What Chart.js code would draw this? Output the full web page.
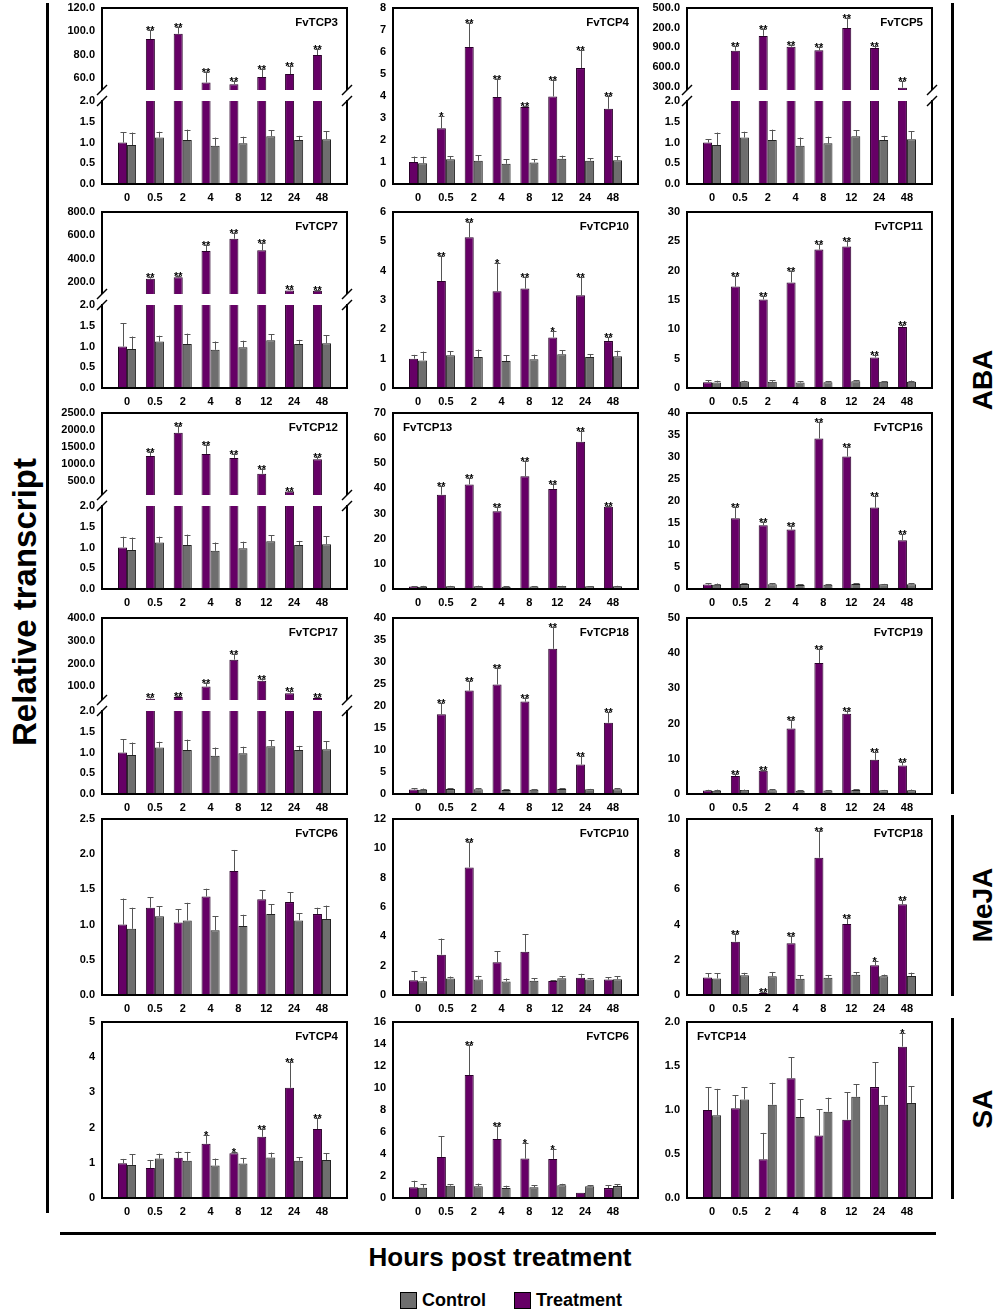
<!doctype html>
<html>
<head>
<title>FvTCP relative transcript</title>
<script src="https://cdn.jsdelivr.net/npm/chart.js@4.4.0/dist/chart.umd.min.js"></script>
<style>
  body { margin: 0; background: #fff; }
  #fig { position: relative; width: 1000px; height: 1315px; font-family: 'Liberation Sans', Arial, sans-serif; font-weight: bold; color: #000; }
  .panel { position: absolute; }
  .panel canvas { position: absolute; left: 0; }
  .rule { position: absolute; background: #000; }
  .vlabel { position: absolute; white-space: nowrap; transform: translate(-50%, -50%) rotate(-90deg); }
  .legend { position: absolute; top: 1290px; left: 400px; font-size: 18px; display: flex; align-items: center; }
  .legend span.box { display: inline-block; width: 15px; height: 15px; border: 1px solid #000; margin-right: 5px; }
</style>
</head>
<body>
<div id="fig">
  <div class="rule" style="left:46px; top:3px; width:3px; height:1210px;"></div>
  <div class="rule" style="left:60px; top:1232px; width:876px; height:3px;"></div>
  <div class="rule" style="left:951px; top:3px; width:3px; height:791px;"></div>
  <div class="rule" style="left:951px; top:815px; width:3px; height:181px;"></div>
  <div class="rule" style="left:951px; top:1018px; width:3px; height:181px;"></div>
  <div class="vlabel" style="left:25px; top:602px; font-size:33px;">Relative transcript</div>
  <div class="vlabel" style="left:983px; top:380px; font-size:28px;">ABA</div>
  <div class="vlabel" style="left:983px; top:905px; font-size:28px;">MeJA</div>
  <div class="vlabel" style="left:983px; top:1109px; font-size:28px;">SA</div>
  <div style="position:absolute; left:0; width:1000px; top:1242px; text-align:center; font-size:26px;">Hours post treatment</div>
  <div class="legend">
    <span class="box" style="background:#6e6e6e;"></span><span style="margin-right:28px;">Control</span>
    <span class="box" style="background:#660066;"></span><span>Treatment</span>
  </div>
</div>
<script>
// time points
var hours = ['0', '0.5', '2', '4', '8', '12', '24', '48'];

// control series (same reference samples in every panel)
var control = [0.94, 1.12, 1.06, 0.92, 0.98, 1.15, 1.06, 1.08];
var controlErr = [0.30, 0.14, 0.25, 0.20, 0.16, 0.14, 0.10, 0.19];

// ABA
var aba3 = [1.0, 93.5, 98.0, 56.4, 55.0, 61.0, 63.6, 79.8];
var aba3Err = [0.25, 7.5, 6.0, 9.0, 3.0, 7.0, 6.5, 5.6];
var aba3Sig = ['', '**', '**', '**', '**', '**', '**', '**'];
var aba4 = [1.0, 2.53, 6.23, 3.95, 3.5, 3.98, 5.27, 3.42];
var aba4Err = [0.25, 0.56, 1.1, 0.83, 0.03, 0.75, 0.83, 0.6];
var aba4Sig = ['', '*', '**', '**', '**', '**', '**', '**'];
var aba5 = [1.0, 850, 1075, 910, 855, 1195, 890, 285];
var aba5Err = [0.08, 65, 110, 25, 55, 145, 25, 100];
var aba5Sig = ['', '**', '**', '**', '**', '**', '**', '**'];
var aba7 = [1.0, 231, 242, 467, 572, 473, 130, 127];
var aba7Err = [0.56, 11, 14, 48, 53, 62, 11, 6];
var aba7Sig = ['', '**', '**', '**', '**', '**', '**', '**'];
var aba10 = [1.0, 3.65, 5.14, 3.3, 3.39, 1.72, 3.16, 1.6];
var aba10Err = [0.13, 0.86, 0.52, 0.95, 0.38, 0.24, 0.64, 0.13];
var aba10Sig = ['', '**', '**', '*', '**', '*', '**', '**'];
var aba11 = [1.0, 17.3, 15.1, 18.0, 23.6, 24.1, 5.2, 10.4];
var aba11Err = [0.35, 1.8, 0.6, 1.9, 0.9, 1.0, 0.4, 0.4];
var aba11Sig = ['', '**', '**', '**', '**', '**', '**', '**'];
var aba12 = [1.0, 1244, 1920, 1302, 1186, 722, 200, 1148];
var aba12Err = [0.26, 125, 210, 260, 125, 145, 30, 77];
var aba12Sig = ['', '**', '**', '**', '**', '**', '**', '**'];
var aba13 = [1.0, 37.5, 41.6, 30.9, 44.8, 39.8, 58.6, 32.7];
var aba13Err = [0.1, 3.5, 2.5, 1.8, 6.0, 2.0, 4.3, 0.4];
var aba13Sig = ['', '**', '**', '**', '**', '**', '**', '**'];
var aba16 = [1.0, 16.1, 14.5, 13.5, 34.2, 30.1, 18.5, 11.1];
var aba16Err = [0.3, 2.6, 0.8, 0.9, 3.7, 2.1, 2.7, 1.4];
var aba16Sig = ['', '**', '**', '**', '**', '**', '**', '**'];
var aba17 = [1.0, 46, 53, 99, 217, 125, 70, 49];
var aba17Err = [0.32, 5, 4, 17, 25, 9, 10, 4];
var aba17Sig = ['', '**', '**', '**', '**', '**', '**', '**'];
var aba18 = [1.0, 18.1, 23.5, 24.9, 21.0, 33.0, 6.7, 16.2];
var aba18Err = [0.3, 2.5, 2.1, 3.8, 0.9, 4.9, 2.0, 2.4];
var aba18Sig = ['', '**', '**', '**', '**', '**', '**', '**'];
var aba19 = [1.0, 5.1, 6.6, 18.6, 37.2, 22.8, 9.7, 8.1];
var aba19Err = [0.2, 0.6, 0.2, 2.3, 4.1, 0.7, 2.3, 1.1];
var aba19Sig = ['', '**', '**', '**', '**', '**', '**', '**'];

// MeJA
var meja6 = [1.0, 1.24, 1.03, 1.40, 1.76, 1.36, 1.32, 1.15];
var meja6Err = [0.37, 0.15, 0.19, 0.11, 0.30, 0.13, 0.14, 0.09];
var meja6Sig = ['', '', '', '', '', '', '', ''];
var meja10 = [1.0, 2.75, 8.7, 2.23, 2.95, 0.95, 1.18, 1.05];
var meja10Err = [0.64, 1.1, 1.75, 0.77, 1.2, 0.05, 0.27, 0.15];
var meja10Sig = ['', '', '**', '', '', '', '', ''];
var meja18 = [1.0, 3.03, 0.11, 2.94, 7.8, 4.03, 1.69, 5.15];
var meja18Err = [0.25, 0.45, 0.04, 0.4, 1.5, 0.33, 0.24, 0.23];
var meja18Sig = ['', '**', '**', '**', '**', '**', '*', '**'];

// SA
var sa4 = [0.99, 0.85, 1.14, 1.54, 1.27, 1.74, 3.13, 1.96];
var sa4Err = [0.12, 0.23, 0.18, 0.24, 0.03, 0.22, 0.73, 0.31];
var sa4Sig = ['', '', '', '*', '*', '**', '**', '**'];
var sa6 = [0.97, 3.73, 11.18, 5.36, 3.58, 3.55, 0.48, 0.9];
var sa6Err = [0.6, 1.9, 2.76, 1.2, 1.45, 0.87, 0.0, 0.28];
var sa6Sig = ['', '', '**', '**', '*', '*', '', ''];
var sa14 = [1.0, 1.02, 0.44, 1.36, 0.71, 0.89, 1.26, 1.72];
var sa14Err = [0.26, 0.15, 0.3, 0.24, 0.3, 0.31, 0.28, 0.15];
var sa14Sig = ['', '', '', '', '', '', '', '*'];

// y tick values
var ticksLow = [0, 0.5, 1, 1.5, 2];
var ticks3 = [60, 80, 100, 120];
var ticks5 = [300, 600, 900, 1200, 1500];
var ticks5Labels = ['300.0', '600.0', '900.0', '200.0', '500.0'];
var ticks7 = [200, 400, 600, 800];
var ticks12 = [500, 1000, 1500, 2000, 2500];
var ticks17 = [100, 200, 300, 400];
var ticks0to8 = [0, 1, 2, 3, 4, 5, 6, 7, 8];
var ticks0to6 = [0, 1, 2, 3, 4, 5, 6];
var ticks0to5 = [0, 1, 2, 3, 4, 5];
var ticks0to30 = [0, 5, 10, 15, 20, 25, 30];
var ticks0to40 = [0, 5, 10, 15, 20, 25, 30, 35, 40];
var ticks0to50 = [0, 10, 20, 30, 40, 50];
var ticks0to70 = [0, 10, 20, 30, 40, 50, 60, 70];
var ticks0to2p5 = [0, 0.5, 1, 1.5, 2, 2.5];
var ticks0to2 = [0, 0.5, 1, 1.5, 2];
var ticks0to10 = [0, 2, 4, 6, 8, 10];
var ticks0to12 = [0, 2, 4, 6, 8, 10, 12];
var ticks0to16 = [0, 2, 4, 6, 8, 10, 12, 14, 16];

var PURPLE = '#660066';
var GRAY = '#6e6e6e';
var colX = [102, 393, 687];
var rowY = [8, 212, 413, 618, 819, 1022];
var PLOT_W = 245, PLOT_H = 176, UP_H = 82, GAP = 11;
var AXIS_W = 60, X_H = 25, PAD_T = 10, PAD_R = 10;

var panels = [
  {name: 'FvTCP3', col: 0, row: 0, t: aba3, e: aba3Err, s: aba3Sig, up: {min: 50, ticks: ticks3}},
  {name: 'FvTCP4', col: 1, row: 0, t: aba4, e: aba4Err, s: aba4Sig, ticks: ticks0to8, dec: 0},
  {name: 'FvTCP5', col: 2, row: 0, t: aba5, e: aba5Err, s: aba5Sig, up: {min: 250, ticks: ticks5, labels: ticks5Labels}},
  {name: 'FvTCP7', col: 0, row: 1, t: aba7, e: aba7Err, s: aba7Sig, up: {min: 100, ticks: ticks7}},
  {name: 'FvTCP10', col: 1, row: 1, t: aba10, e: aba10Err, s: aba10Sig, ticks: ticks0to6, dec: 0},
  {name: 'FvTCP11', col: 2, row: 1, t: aba11, e: aba11Err, s: aba11Sig, ticks: ticks0to30, dec: 0},
  {name: 'FvTCP12', col: 0, row: 2, t: aba12, e: aba12Err, s: aba12Sig, up: {min: 100, ticks: ticks12}},
  {name: 'FvTCP13', col: 1, row: 2, t: aba13, e: aba13Err, s: aba13Sig, ticks: ticks0to70, dec: 0, left: true},
  {name: 'FvTCP16', col: 2, row: 2, t: aba16, e: aba16Err, s: aba16Sig, ticks: ticks0to40, dec: 0},
  {name: 'FvTCP17', col: 0, row: 3, t: aba17, e: aba17Err, s: aba17Sig, up: {min: 40, ticks: ticks17}},
  {name: 'FvTCP18', col: 1, row: 3, t: aba18, e: aba18Err, s: aba18Sig, ticks: ticks0to40, dec: 0},
  {name: 'FvTCP19', col: 2, row: 3, t: aba19, e: aba19Err, s: aba19Sig, ticks: ticks0to50, dec: 0},
  {name: 'FvTCP6', col: 0, row: 4, t: meja6, e: meja6Err, s: meja6Sig, ticks: ticks0to2p5, dec: 1},
  {name: 'FvTCP10', col: 1, row: 4, t: meja10, e: meja10Err, s: meja10Sig, ticks: ticks0to12, dec: 0},
  {name: 'FvTCP18', col: 2, row: 4, t: meja18, e: meja18Err, s: meja18Sig, ticks: ticks0to10, dec: 0},
  {name: 'FvTCP4', col: 0, row: 5, t: sa4, e: sa4Err, s: sa4Sig, ticks: ticks0to5, dec: 0},
  {name: 'FvTCP6', col: 1, row: 5, t: sa6, e: sa6Err, s: sa6Sig, ticks: ticks0to16, dec: 0},
  {name: 'FvTCP14', col: 2, row: 5, t: sa14, e: sa14Err, s: sa14Sig, ticks: ticks0to2, dec: 1, left: true}
];

Chart.defaults.font.family = "'Liberation Sans', Arial, sans-serif";
Chart.defaults.font.weight = 'bold';
Chart.defaults.font.size = 11;
Chart.defaults.color = '#000';

function line(ctx, x0, y0, x1, y1) {
  ctx.beginPath(); ctx.moveTo(x0, y0); ctx.lineTo(x1, y1); ctx.stroke();
}

// box around the plot area, panel name, axis breaks
var framePlugin = {
  id: 'frame',
  afterDraw: function (chart, args, opts) {
    var ctx = chart.ctx, a = chart.chartArea;
    ctx.save();
    ctx.strokeStyle = '#000';
    ctx.lineWidth = 2;
    ctx.lineCap = 'square';
    if (opts.sides.indexOf('t') >= 0) line(ctx, a.left, a.top, a.right, a.top);
    if (opts.sides.indexOf('b') >= 0) line(ctx, a.left, a.bottom, a.right, a.bottom);
    line(ctx, a.left, a.top, a.left, a.bottom);
    line(ctx, a.right, a.top, a.right, a.bottom);
    if (opts.breaks) {
      ctx.lineWidth = 1.5;
      ctx.lineCap = 'butt';
      [a.left, a.right].forEach(function (x) {
        line(ctx, x - 5, a.top - GAP + 5, x + 5, a.top - GAP - 5);
        line(ctx, x - 5, a.top + 5, x + 5, a.top - 5);
      });
    }
    if (opts.title) {
      ctx.fillStyle = '#000';
      ctx.font = "bold 11.5px 'Liberation Sans', Arial, sans-serif";
      ctx.textBaseline = 'alphabetic';
      if (opts.titleLeft) {
        ctx.textAlign = 'left';
        ctx.fillText(opts.title, a.left + 10, a.top + 18);
      } else {
        ctx.textAlign = 'right';
        ctx.fillText(opts.title, a.right - 9, a.top + 18);
      }
    }
    ctx.restore();
  }
};

// one-sided error bars and significance stars
var errPlugin = {
  id: 'errbars',
  afterDatasetsDraw: function (chart) {
    var ctx = chart.ctx, a = chart.chartArea, ys = chart.scales.y;
    ctx.save();
    ctx.beginPath();
    ctx.rect(a.left, a.top - 12, a.right - a.left, a.bottom - a.top + 12);
    ctx.clip();
    ctx.strokeStyle = '#555';
    ctx.lineWidth = 1;
    ctx.fillStyle = '#000';
    ctx.font = "bold 11px 'Liberation Sans', Arial, sans-serif";
    ctx.textAlign = 'center';
    ctx.textBaseline = 'alphabetic';
    chart.data.datasets.forEach(function (ds, di) {
      chart.getDatasetMeta(di).data.forEach(function (bar, i) {
        var v = ds.data[i].y, e = ds.err[i];
        if (v < ys.min || v > ys.max) return;
        var y0 = ys.getPixelForValue(v), y1 = ys.getPixelForValue(v + e);
        var x = Math.round(bar.x) + 0.5;
        if (e > 0) {
          line(ctx, x, y0, x, y1);
          line(ctx, x - 3, Math.round(y1) + 0.5, x + 3, Math.round(y1) + 0.5);
        }
        if (ds.sig && ds.sig[i]) ctx.fillText(ds.sig[i], bar.x, y1 + 4);
      });
    });
    ctx.restore();
  }
};

function makeChart(canvas, p, part) {
  var ticks = part.ticks;
  var labels = part.labels;
  var dec = part.dec;
  return new Chart(canvas, {
    type: 'bar',
    data: {
      datasets: [
        {
          label: 'Treatment',
          data: p.t.map(function (v, i) { return {x: i, y: v}; }),
          err: p.e, sig: p.s,
          backgroundColor: PURPLE, borderColor: '#2a002a', borderWidth: 1,
          categoryPercentage: 0.65, barPercentage: 1.0, clip: 0
        },
        {
          label: 'Control',
          data: control.map(function (v, i) { return {x: i, y: v}; }),
          err: controlErr,
          backgroundColor: GRAY, borderColor: '#222', borderWidth: 1,
          categoryPercentage: 0.65, barPercentage: 1.0, clip: 0
        }
      ]
    },
    options: {
      responsive: false,
      animation: false,
      events: [],
      layout: {padding: {top: part.padTop, right: PAD_R, left: 0, bottom: 0}},
      plugins: {
        legend: {display: false},
        tooltip: {enabled: false},
        frame: {sides: part.sides, breaks: part.breaks, title: part.title, titleLeft: p.left}
      },
      scales: {
        x: {
          type: 'linear', min: -0.9, max: 7.9, offset: false,
          display: part.showX,
          grid: {display: false, drawTicks: false}, border: {display: false},
          afterBuildTicks: function (s) { s.ticks = hours.map(function (h, i) { return {value: i}; }); },
          afterFit: function (s) { s.height = part.showX ? X_H : 0; },
          ticks: {autoSkip: false, maxRotation: 0, padding: 7, callback: function (v) { return hours[v]; }}
        },
        y: {
          min: part.min, max: part.max,
          grid: {display: false, drawTicks: false}, border: {display: false},
          afterBuildTicks: function (s) { s.ticks = ticks.map(function (v) { return {value: v}; }); },
          afterFit: function (s) { s.width = AXIS_W; s.paddingTop = 0; s.paddingBottom = 0; },
          ticks: {
            autoSkip: false, padding: 7,
            callback: function (v, i) { return labels ? labels[i] : v.toFixed(dec); }
          }
        }
      }
    },
    plugins: [framePlugin, errPlugin]
  });
}

var fig = document.getElementById('fig');
panels.forEach(function (p) {
  var div = document.createElement('div');
  div.className = 'panel';
  var W = AXIS_W + PLOT_W + PAD_R, H = PAD_T + PLOT_H + X_H;
  div.style.left = (colX[p.col] - AXIS_W) + 'px';
  div.style.top = (rowY[p.row] - PAD_T) + 'px';
  div.style.width = W + 'px';
  div.style.height = H + 'px';
  fig.appendChild(div);

  function addCanvas(top, h) {
    var c = document.createElement('canvas');
    c.width = W; c.height = h;
    c.style.top = top + 'px';
    div.appendChild(c);
    return c;
  }

  if (p.up) {
    var upTicks = p.up.ticks;
    makeChart(addCanvas(0, PAD_T + UP_H), p, {
      min: p.up.min, max: upTicks[upTicks.length - 1], ticks: upTicks, labels: p.up.labels, dec: 1,
      padTop: PAD_T, showX: false, sides: 'tlr', title: p.name
    });
    var lowTop = PAD_T + UP_H - 8;
    makeChart(addCanvas(lowTop, H - lowTop), p, {
      min: 0, max: 2, ticks: ticksLow, dec: 1,
      padTop: 8 + GAP, showX: true, sides: 'lrb', breaks: true
    });
  } else {
    makeChart(addCanvas(0, H), p, {
      min: p.ticks[0], max: p.ticks[p.ticks.length - 1], ticks: p.ticks, dec: p.dec,
      padTop: PAD_T, showX: true, sides: 'tlrb', title: p.name
    });
  }
});
</script>
</body>
</html>
